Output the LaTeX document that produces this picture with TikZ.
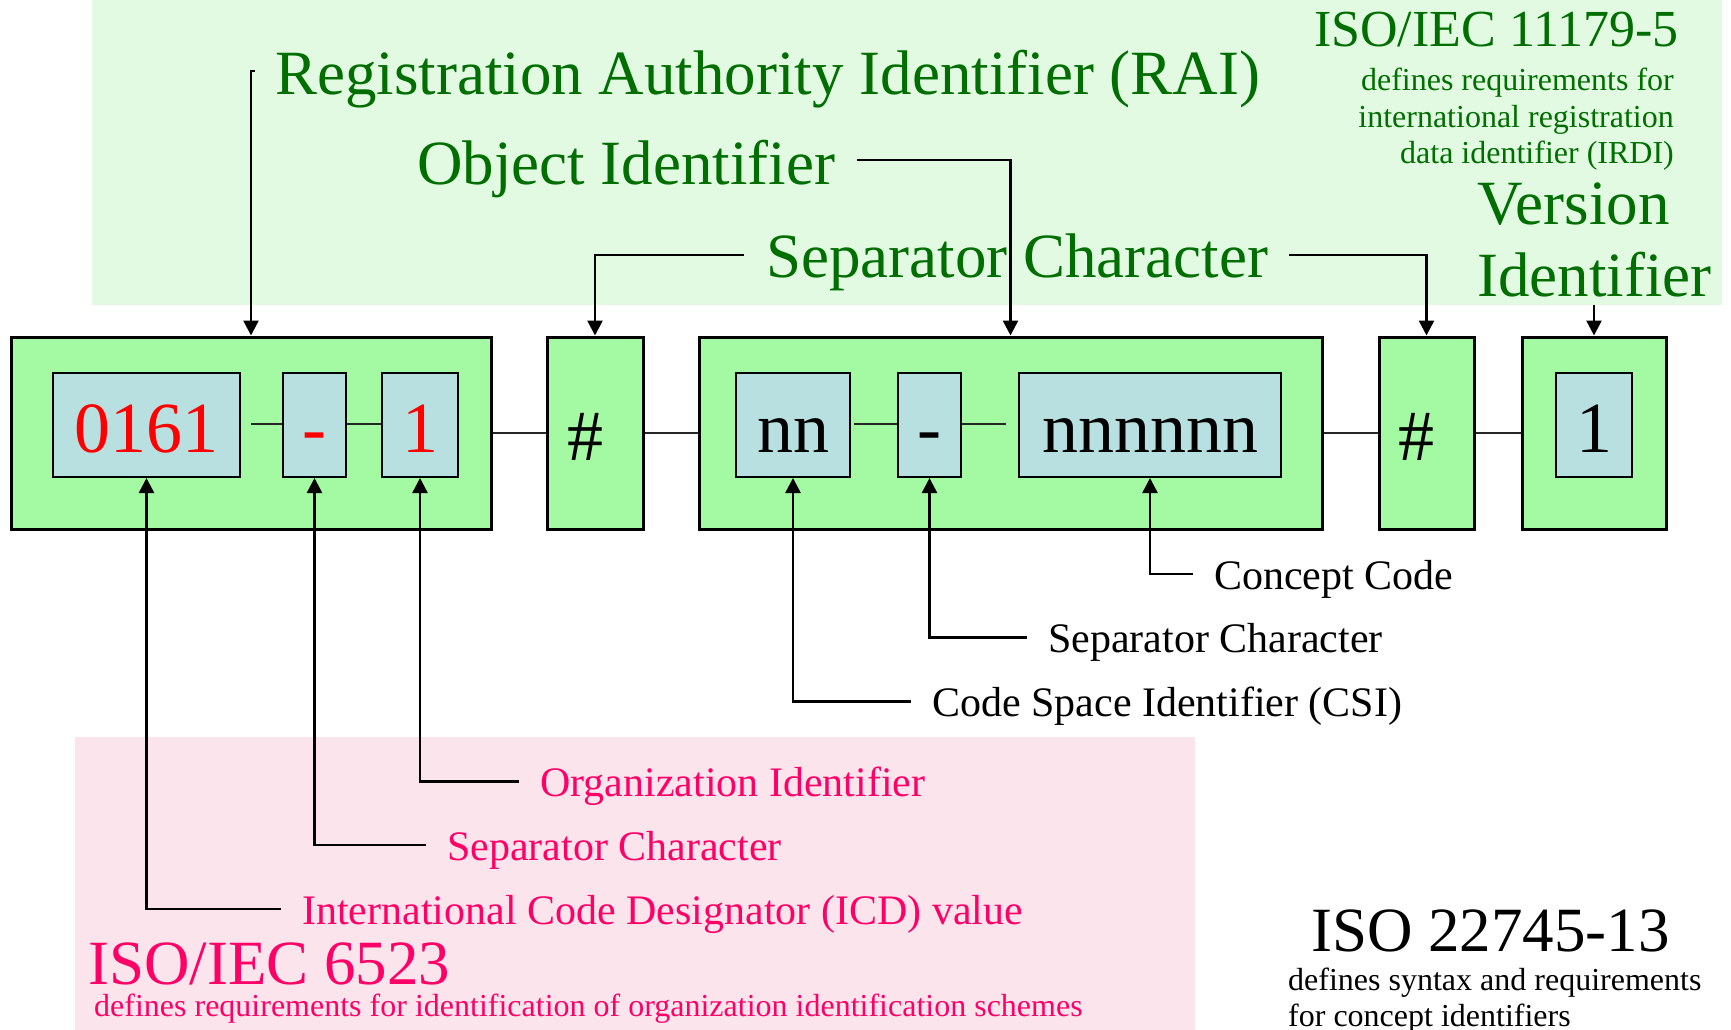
\documentclass[tikz,border=0pt]{standalone}
\usepackage{fontspec}
\setmainfont{Liberation Serif}
\usetikzlibrary{arrows.meta,calc}

\definecolor{bgGreen}{RGB}{225,250,225}
\definecolor{boxGreen}{RGB}{164,250,162}
\definecolor{innerBlue}{RGB}{185,224,225}
\definecolor{darkGreen}{RGB}{0,110,0}
\definecolor{pinkText}{RGB}{255,0,102}
\definecolor{pinkBg}{RGB}{252,228,236}
\definecolor{codeRed}{RGB}{255,0,0}

\newcommand\szBig{\fontsize{63}{72}\selectfont}
\newcommand\szStd{\fontsize{52}{60}\selectfont}
\newcommand\szMid{\fontsize{42}{48}\selectfont}
\newcommand\szSmall{\fontsize{32}{36}\selectfont}
\newcommand\szCode{\fontsize{72}{80}\selectfont}

\tikzset{
  outerbox/.style={draw=black, line width=3pt, fill=boxGreen, minimum height=192pt, inner sep=0pt},
  innerbox/.style={draw=black, line width=2pt, fill=innerBlue, minimum height=104pt, inner sep=0pt},
  codetext/.style={anchor=base, inner sep=0pt, font=\szCode},
  lab/.style={anchor=base west, inner sep=0pt},
  link/.style={line width=2pt, draw=black!85},
  arr/.style={line width=2.5pt, -{Triangle[width=15pt,length=15pt]}},
}

\begin{document}
\begin{tikzpicture}[x=1pt,y=-1pt]
\useasboundingbox (0,0) rectangle (1731,1030);

% backgrounds of the two standards regions
\fill[bgGreen] (92,0) rectangle (1722,305);
\fill[pinkBg] (75,737) rectangle (1195,1030);

% outer segments of the identifier
\node[outerbox, minimum width=480pt] (rai) at (251,433) {};
\node[outerbox, minimum width=96pt] (h1) at (595,433) {};
\node[outerbox, minimum width=623pt] (oidbox) at (1010.5,433) {};
\node[outerbox, minimum width=95pt] (h2) at (1426.5,433) {};
\node[outerbox, minimum width=144pt] (ver) at (1594,433) {};

% inner fields
\node[innerbox, minimum width=187pt] (icd) at (146.5,425) {};
\node[innerbox, minimum width=63pt] (d1) at (314.5,425) {};
\node[innerbox, minimum width=76pt] (org) at (420,425) {};
\node[innerbox, minimum width=114pt] (csi) at (793,425) {};
\node[innerbox, minimum width=63pt] (d2) at (929.5,425) {};
\node[innerbox, minimum width=262pt] (cc) at (1150,425) {};
\node[innerbox, minimum width=76pt] (v1) at (1594,425) {};

% field contents
\node[codetext, text=codeRed] (ticd) at (146.5,452) {0161};
\node[codetext, text=codeRed] (td1) at (314.5,452) {-};
\node[codetext, text=codeRed] (torg) at (420,452) {1};
\node[codetext] (th1) at (585,460) {\#};
\node[codetext] (tcsi) at (793,452) {nn};
\node[codetext] (td2) at (929.5,452) {-};
\node[codetext] (tcc) at (1150,452) {nnnnnn};
\node[codetext] (th2) at (1416,460) {\#};
\node[codetext] (tv1) at (1594,452) {1};

% links between fields and segments
\draw[link, shorten <=10pt] (icd.east |- 0,424) -- (d1.west |- 0,424);
\draw[link] (d1.east |- 0,424) -- (org.west |- 0,424);
\draw[link, shorten <=3pt] (csi.east |- 0,424) -- (d2.west |- 0,424);
\draw[link, shorten >=12pt] (d2.east |- 0,424) -- (cc.west |- 0,424);
\draw[link] (rai.east) -- (h1.west);
\draw[link] (h1.east) -- (oidbox.west);
\draw[link] (oidbox.east) -- (h2.west);
\draw[link] (h2.east) -- (ver.west);

% ISO/IEC 11179-5 labels
\node[lab, text=darkGreen, font=\szBig] (lrai) at (275,95) {Registration Authority Identifier (RAI)};
\node[lab, text=darkGreen, font=\szBig] (loid) at (417,184) {Object Identifier};
\node[lab, text=darkGreen, font=\szBig] (lsep) at (766,277) {Separator Character};
\node[lab, text=darkGreen, font=\szBig] (lver1) at (1477,224) {Version};
\node[lab, text=darkGreen, font=\szBig] (lver2) at (1477,296) {Identifier};
\node[lab, text=darkGreen, font=\szStd] (l11179) at (1314,46.5) {ISO/IEC 11179-5};
\node[anchor=base east, inner sep=0pt, text=darkGreen, font=\szSmall] (d11179a) at (1674,91) {defines requirements for};
\node[anchor=base east, inner sep=0pt, text=darkGreen, font=\szSmall] (d11179b) at (1674,128) {international registration};
\node[anchor=base east, inner sep=0pt, text=darkGreen, font=\szSmall] (d11179c) at (1674,164) {data identifier (IRDI)};

\draw[arr] ([xshift=-20pt,yshift=24pt]lrai.base west) -| (rai.north);
\draw[arr] ([xshift=22pt,yshift=24pt]loid.base east) -| (oidbox.north);
\draw[arr] ([xshift=-22pt,yshift=22pt]lsep.base west) -| (h1.north);
\draw[arr] ([xshift=21pt,yshift=22pt]lsep.base east) -| (h2.north);
\draw[arr] ([yshift=-9pt]lver2.base -| ver.north) -- (ver.north);

% ISO 22745-13 labels
\node[lab, font=\szMid] (lcc) at (1214,589) {Concept Code};
\node[lab, font=\szMid] (lsep2) at (1048,652.5) {Separator Character};
\node[lab, font=\szMid] (lcsi) at (932,716.5) {Code Space Identifier (CSI)};
\node[lab, font=\szBig] (l22745) at (1311,951.5) {ISO 22745-13};
\node[lab, font=\szSmall] (d22745a) at (1288,990) {defines syntax and requirements};
\node[lab, font=\szSmall] (d22745b) at (1288,1026.5) {for concept identifiers};

\draw[arr] ([xshift=-21pt,yshift=15pt]lcc.base west) -| (cc.south);
\draw[arr] ([xshift=-21pt,yshift=15pt]lsep2.base west) -| (d2.south);
\draw[arr] ([xshift=-21pt,yshift=15pt]lcsi.base west) -| (csi.south);

% ISO/IEC 6523 labels
\node[lab, text=pinkText, font=\szMid] (lorg) at (540,796.5) {Organization Identifier};
\node[lab, text=pinkText, font=\szMid] (lsep3) at (447,860) {Separator Character};
\node[lab, text=pinkText, font=\szMid] (licd) at (302,924) {International Code Designator (ICD) value};
\node[lab, text=pinkText, font=\szBig] (l6523) at (88,984) {ISO/IEC 6523};
\node[lab, text=pinkText, font=\szSmall] (d6523) at (94,1016.5) {defines requirements for identification of organization identification schemes};

\draw[arr] ([xshift=-21pt,yshift=15pt]lorg.base west) -| (org.south);
\draw[arr] ([xshift=-21pt,yshift=15pt]lsep3.base west) -| (d1.south);
\draw[arr] ([xshift=-21pt,yshift=15pt]licd.base west) -| (icd.south);
\end{tikzpicture}
\end{document}
